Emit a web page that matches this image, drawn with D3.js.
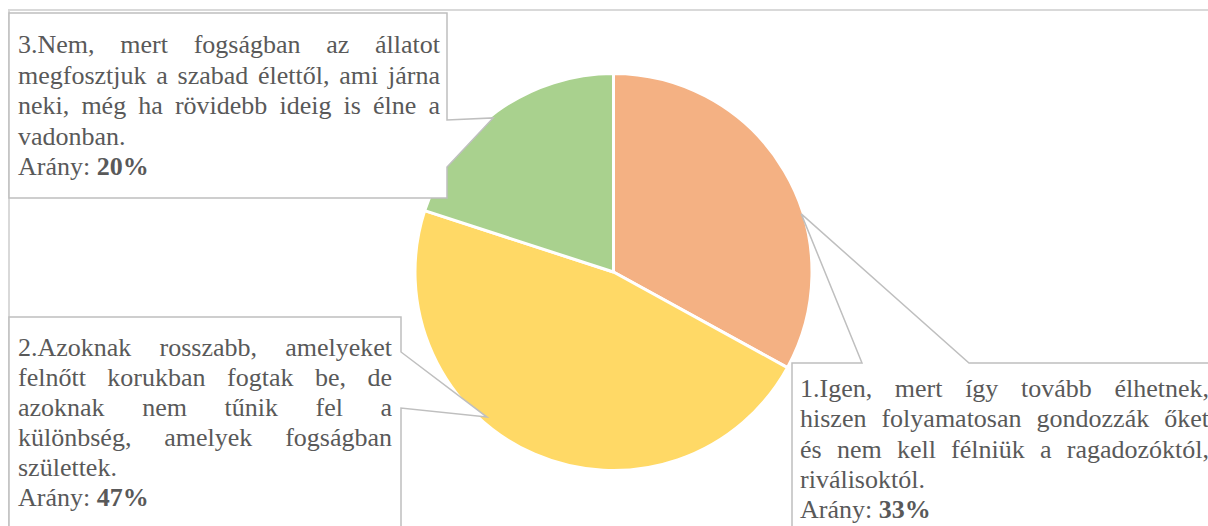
<!DOCTYPE html>
<html>
<head>
<meta charset="utf-8">
<script src="https://cdn.jsdelivr.net/npm/d3@7"></script>
<style>
  html, body { margin: 0; padding: 0; background: #fff; }
  svg { display: block; }
</style>
</head>
<body>
<svg id="chart" width="1208" height="526"></svg>
<script>
// ---- data ----
const categories = ["1", "2", "3"];
const values = [33, 47, 20];
const colors = ["#F4B183", "#FFD966", "#A9D18E"];
const labelLines = [
  ["1.Igen, mert így tovább élhetnek,", "hiszen folyamatosan gondozzák őket", "és nem kell félniük a ragadozóktól,", "riválisoktól."],
  ["2.Azoknak rosszabb, amelyeket", "felnőtt korukban fogtak be, de", "azoknak nem tűnik fel a", "különbség, amelyek fogságban", "születtek."],
  ["3.Nem, mert fogságban az állatot", "megfosztjuk a szabad élettől, ami járna", "neki, még ha rövidebb ideig is élne a", "vadonban."]
];
const ratioPrefix = "Arány: ";

// ---- layout ----
const W = 1208, H = 526;
const cx = 613.5, cy = 272, R = 198.5;
const FS = 26;
const FONT = '"Liberation Serif"';
const TEXT_COLOR = "#595959";

const svg = d3.select("#chart");

// chart border
svg.append("path")
  .attr("d", `M9,${H + 5} L9,10 L${W + 5},10`)
  .attr("fill", "none").attr("stroke", "#D9D9D9").attr("stroke-width", 2);

// pie
const pie = d3.pie().sort(null).value(d => d)
  .startAngle(0).endAngle(2 * Math.PI);
const arc = d3.arc().innerRadius(0).outerRadius(R);
const g = svg.append("g").attr("transform", `translate(${cx},${cy})`);
g.selectAll("path").data(pie(values)).join("path")
  .attr("d", arc)
  .attr("fill", (d, i) => colors[i])
  .attr("stroke", "#fff").attr("stroke-width", 3).attr("stroke-linejoin", "round");

// polar helper (angle in degrees clockwise from top, r as fraction of R)
function polar(angDeg, frac) {
  const a = angDeg * Math.PI / 180;
  return [cx + Math.sin(a) * R * frac, cy - Math.cos(a) * R * frac];
}

// callout boxes: rectangle + wedge pointer
const callouts = [
  { // label 1
    x0: 792, y0: 363, x1: W + 10, y1: H + 10,
    side: "top", b0: 862, b1: 969, apex: polar(72.8, 0.99),
    textX: 800, textR: 1209, base: 397, lh: 30.3
  },
  { // label 2
    x0: 9, y0: 317, x1: 401, y1: H + 10,
    side: "right", b0: 352, b1: 408, apex: polar(221.1, 0.97),
    textX: 18, textR: 392, base: 356, lh: 30
  },
  { // label 3
    x0: 9, y0: 13, x1: 447, y1: 198,
    side: "right", b0: 120, b1: 167, apex: polar(322, 0.985),
    textX: 18, textR: 440, base: 53, lh: 30.6
  }
];

function styled(sel) {
  return sel.style("font-family", FONT).attr("font-size", FS).attr("fill", TEXT_COLOR);
}

callouts.forEach((c, i) => {
  let d;
  if (c.side === "top") {
    d = `M${c.x0},${c.y0} L${c.b0},${c.y0} L${c.apex[0]},${c.apex[1]} L${c.b1},${c.y0} L${c.x1},${c.y0} L${c.x1},${c.y1} L${c.x0},${c.y1} Z`;
  } else {
    d = `M${c.x0},${c.y0} L${c.x1},${c.y0} L${c.x1},${c.b0} L${c.apex[0]},${c.apex[1]} L${c.x1},${c.b1} L${c.x1},${c.y1} L${c.x0},${c.y1} Z`;
  }
  svg.append("path").attr("d", d)
    .attr("fill", "#fff").attr("stroke", "#BFBFBF").attr("stroke-width", 1.5)
    .attr("stroke-linejoin", "miter");

  const tg = svg.append("g");
  const lines = labelLines[i];
  const width = c.textR - c.textX;
  lines.forEach((line, li) => {
    const y = c.base + li * c.lh;
    const justify = li < lines.length - 1;
    const words = line.split(" ");
    if (!justify || words.length < 2) {
      styled(tg.append("text")).attr("x", c.textX).attr("y", y).text(line);
      return;
    }
    const nodes = words.map(w => styled(tg.append("text")).attr("y", y).text(w));
    const widths = nodes.map(n => n.node().getComputedTextLength());
    const total = d3.sum(widths);
    const gap = (width - total) / (words.length - 1);
    let x = c.textX;
    nodes.forEach((n, k) => { n.attr("x", x); x += widths[k] + gap; });
  });
  const last = styled(tg.append("text")).attr("x", c.textX).attr("y", c.base + lines.length * c.lh);
  last.append("tspan").text(ratioPrefix);
  last.append("tspan").attr("font-weight", "bold").text(values[i] + "%");
});
</script>
</body>
</html>
